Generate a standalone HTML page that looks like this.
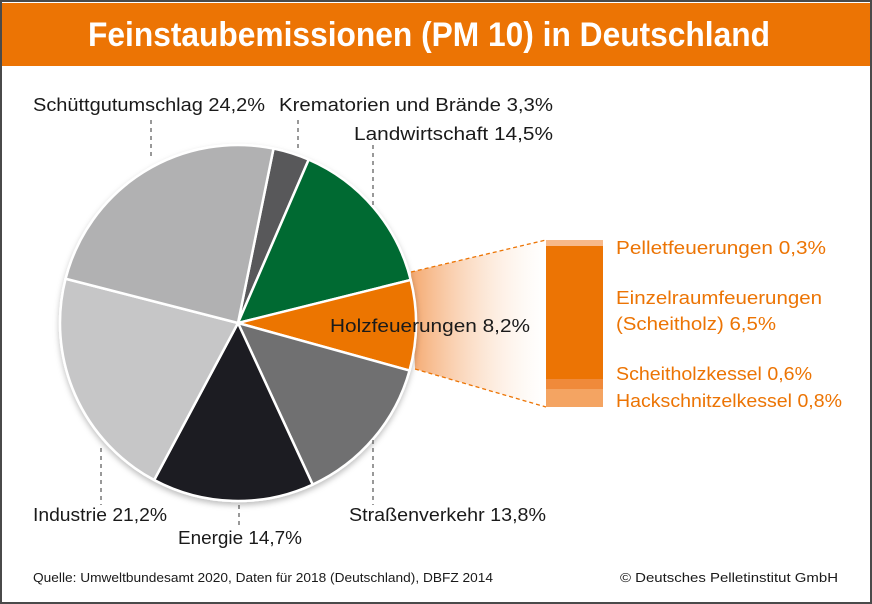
<!DOCTYPE html>
<html><head><meta charset="utf-8"><style>
html,body{margin:0;padding:0;background:#fff}
svg{display:block}
text{font-family:"Liberation Sans",sans-serif}
</style></head><body>
<svg id="s" width="872" height="604" viewBox="0 0 872 604" xmlns="http://www.w3.org/2000/svg">
<defs>
<linearGradient id="g" x1="0" x2="1" y1="0" y2="0">
<stop offset="0" stop-color="#f4a468" stop-opacity="0.95"/>
<stop offset="1" stop-color="#fde6d2" stop-opacity="0"/>
</linearGradient>
<filter id="sh" x="-10%" y="-10%" width="120%" height="120%"><feDropShadow dx="0" dy="3" stdDeviation="3" flood-color="#000" flood-opacity="0.25"/></filter>
</defs>
<rect x="1" y="1" width="870" height="602" fill="#fff" stroke="#4a4a4a" stroke-width="2"/>
<rect x="2" y="3" width="868" height="63" fill="#ec7404"/>
<text x="429" y="46" text-anchor="middle" fill="#fff" font-weight="bold" font-size="34" textLength="682" lengthAdjust="spacingAndGlyphs">Feinstaubemissionen (PM 10) in Deutschland</text>
<polygon points="411,272 546,240 546,407 415,369" fill="url(#g)"/>
<g id="pie" filter="url(#sh)"></g>
<g stroke="#ec7404" stroke-width="1.3" stroke-dasharray="4,3" fill="none">
<line x1="411" y1="272" x2="546" y2="240"/><line x1="415" y1="369" x2="546" y2="407"/>
</g>
<rect x="546" y="240" width="57" height="6" fill="#f7b98a"/>
<rect x="546" y="246" width="57" height="133" fill="#ec7404"/>
<rect x="546" y="379" width="57" height="10" fill="#f08a3a"/>
<rect x="546" y="389" width="57" height="18" fill="#f4a462"/>
<g stroke="#333" stroke-width="1" stroke-dasharray="4,4">
<line x1="151" y1="120" x2="151" y2="160"/>
<line x1="298" y1="120" x2="298" y2="152"/>
<line x1="373" y1="145" x2="373" y2="205"/>
<line x1="101" y1="448" x2="101" y2="505"/>
<line x1="239" y1="505" x2="239" y2="528"/>
<line x1="373" y1="440" x2="373" y2="505"/>
</g>
<g font-size="18" fill="#1a1a1a">
<text x="33" y="111" textLength="232" lengthAdjust="spacingAndGlyphs">Schüttgutumschlag 24,2%</text>
<text x="279" y="111" textLength="274" lengthAdjust="spacingAndGlyphs">Krematorien und Brände 3,3%</text>
<text x="354" y="140" textLength="199" lengthAdjust="spacingAndGlyphs">Landwirtschaft 14,5%</text>
<text x="330" y="332" textLength="200" lengthAdjust="spacingAndGlyphs">Holzfeuerungen 8,2%</text>
<text x="33" y="521" textLength="134" lengthAdjust="spacingAndGlyphs">Industrie 21,2%</text>
<text x="178" y="544" textLength="124" lengthAdjust="spacingAndGlyphs">Energie 14,7%</text>
<text x="349" y="521" textLength="197" lengthAdjust="spacingAndGlyphs">Straßenverkehr 13,8%</text>
</g>
<g font-size="18" fill="#ec7404">
<text x="616" y="254" textLength="210" lengthAdjust="spacingAndGlyphs">Pelletfeuerungen 0,3%</text>
<text x="616" y="304" textLength="206" lengthAdjust="spacingAndGlyphs">Einzelraumfeuerungen</text>
<text x="616" y="330" textLength="160" lengthAdjust="spacingAndGlyphs">(Scheitholz) 6,5%</text>
<text x="616" y="380" textLength="196" lengthAdjust="spacingAndGlyphs">Scheitholzkessel 0,6%</text>
<text x="616" y="407" textLength="226" lengthAdjust="spacingAndGlyphs">Hackschnitzelkessel 0,8%</text>
</g>
<g font-size="13" fill="#1a1a1a">
<text x="33" y="582" textLength="460" lengthAdjust="spacingAndGlyphs">Quelle: Umweltbundesamt 2020, Daten für 2018 (Deutschland), DBFZ 2014</text>
<text x="620" y="582" textLength="218" lengthAdjust="spacingAndGlyphs">© Deutsches Pelletinstitut GmbH</text>
</g>
</svg>
<script>
(function(){
var cx=238,cy=323,r=178;
var sl=[[11.5,23.4,"#58585a"],[23.4,76,"#006a32"],[76,105.5,"#ec7404"],[105.5,155.2,"#707071"],[155.2,208.1,"#1e1c20"],[208.1,284.4,"#c6c6c7"],[284.4,371.5,"#b1b1b2"]];
var g=document.getElementById("pie"),h="";
function p(a){a=a*Math.PI/180;return (cx+r*Math.sin(a)).toFixed(2)+","+(cy-r*Math.cos(a)).toFixed(2);}
sl.forEach(function(s){var la=(s[1]-s[0])>180?1:0;
h+='<path d="M'+cx+','+cy+' L'+p(s[0])+' A'+r+','+r+' 0 '+la+' 1 '+p(s[1])+' Z" fill="'+s[2]+'" stroke="#fff" stroke-width="2.5" stroke-linejoin="round"/>';});
g.innerHTML=h;
})();
</script>
</body></html>
